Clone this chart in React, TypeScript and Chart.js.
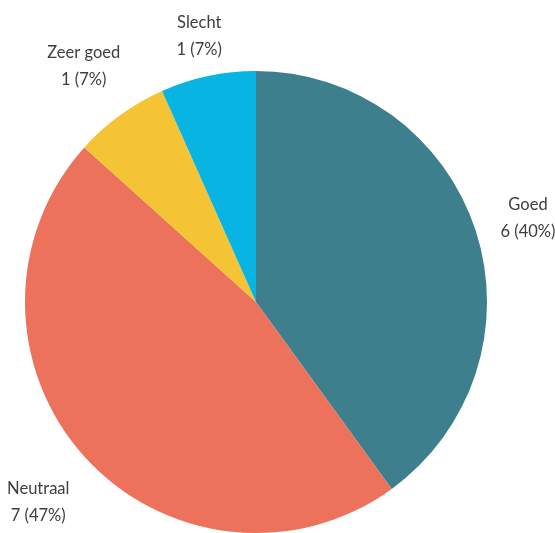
import React, { useEffect, useRef } from "react";
import { Chart, registerables } from "chart.js";

Chart.register(...registerables);

const categories = ["Goed", "Neutraal", "Zeer goed", "Slecht"];
const counts = [6, 7, 1, 1];
const percentLabels = ["40%", "47%", "7%", "7%"];
const colors = ["#3d7f8c", "#ec725b", "#f4c434", "#08b4e2"];
const labelDistance = [55, 62, 62, 42];
const labelShiftY = [5, 4, 1, 1];

const outsideLabels = {
  id: "outsideLabels",
  afterDraw(chart: any) {
    const ctx = chart.ctx;
    const meta = chart.getDatasetMeta(0);
    ctx.save();
    ctx.font = "16.5px Lato";
    ctx.fillStyle = "#3e3e3e";
    ctx.textAlign = "center";
    ctx.textBaseline = "middle";
    meta.data.forEach((arc: any, i: number) => {
      const mid = (arc.startAngle + arc.endAngle) / 2;
      const r = arc.outerRadius + labelDistance[i];
      const x = arc.x + Math.cos(mid) * r;
      const y = arc.y + Math.sin(mid) * r + labelShiftY[i];
      ctx.fillText(categories[i], x, y - 13.5);
      ctx.fillText(`${counts[i]} (${percentLabels[i]})`, x, y + 13.5);
    });
    ctx.restore();
  },
};

export default function App() {
  const ref = useRef<HTMLCanvasElement>(null);
  useEffect(() => {
    if (!ref.current) return;
    const chart = new Chart(ref.current, {
      type: "pie",
      data: {
        labels: categories,
        datasets: [
          {
            data: counts,
            backgroundColor: colors,
            borderWidth: 0,
          },
        ],
      },
      options: {
        animation: false,
        responsive: true,
        maintainAspectRatio: false,
        layout: { padding: { left: 25, right: 68, top: 71, bottom: 0 } },
        plugins: {
          legend: { display: false },
          tooltip: { enabled: false },
        },
      },
      plugins: [outsideLabels],
    });
    return () => chart.destroy();
  }, []);
  return (
    <div style={{ position: "fixed", left: 0, top: 0, width: 555, height: 533 }}>
      <canvas ref={ref} />
    </div>
  );
}
